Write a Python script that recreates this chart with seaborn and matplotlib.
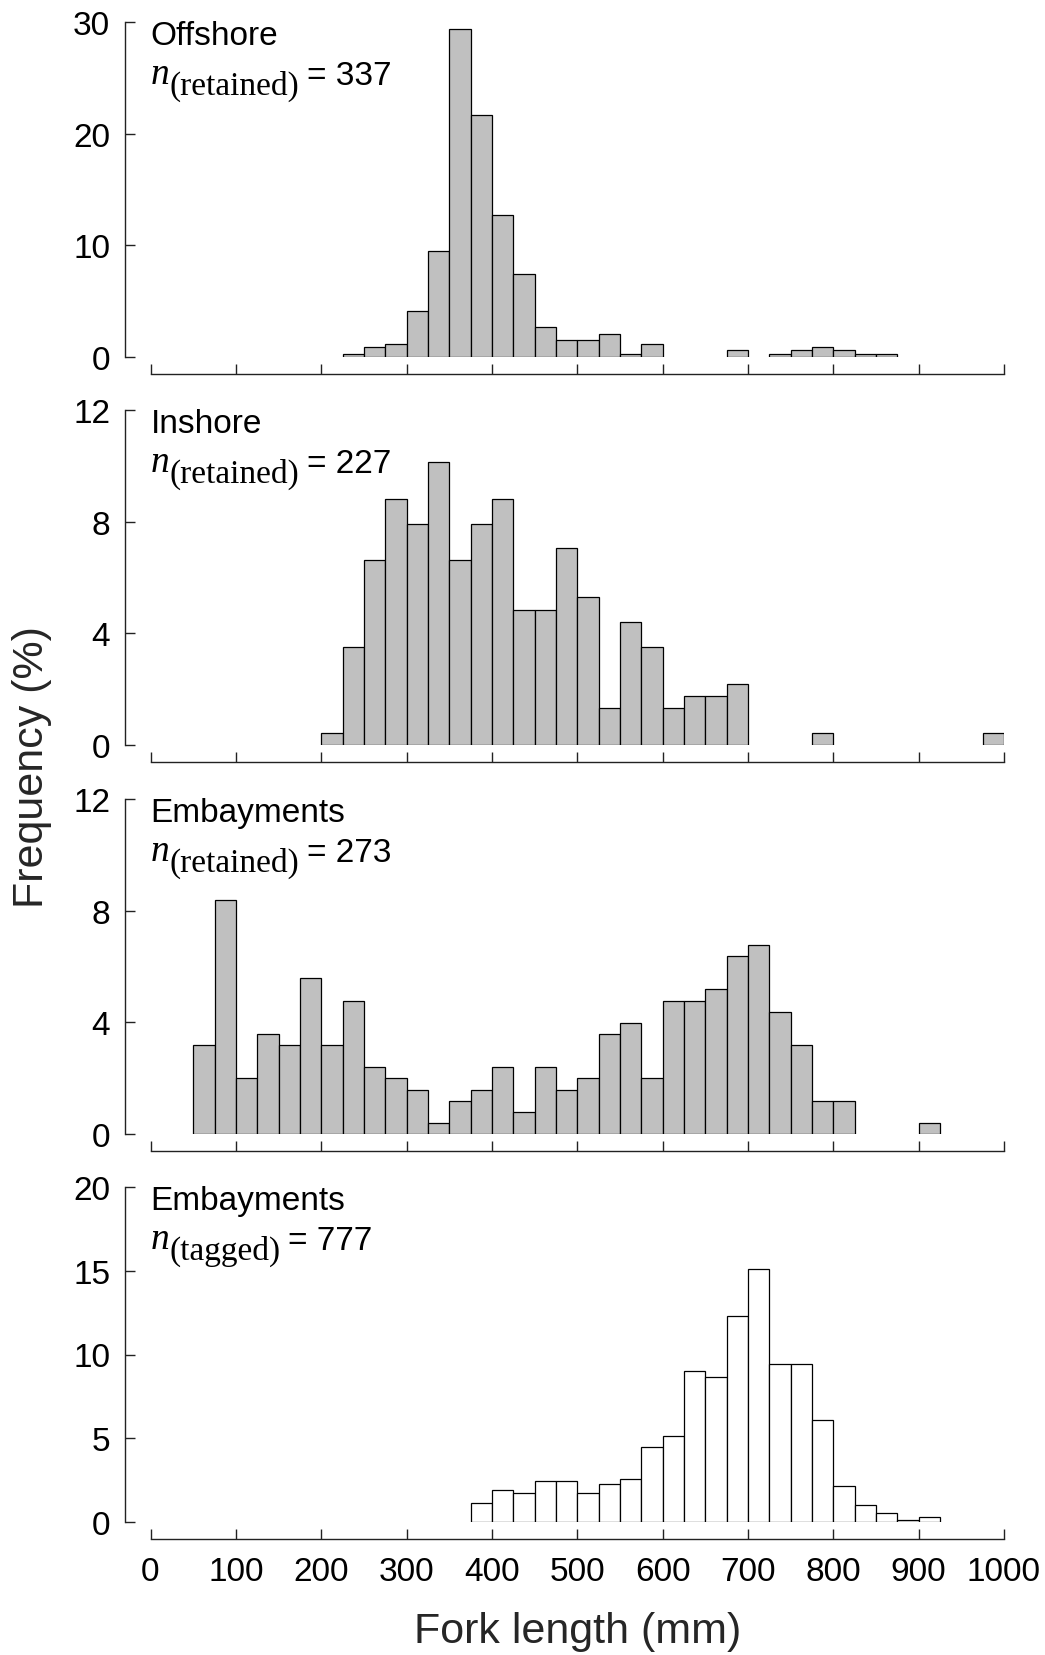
import numpy as np
import pandas as pd
import matplotlib
matplotlib.use("Agg")
import matplotlib.pyplot as plt
import seaborn as sns

# ---------------- data (fork-length bins, 25 mm wide; values = % frequency) ----------------
BIN_WIDTH = 25

offshore_left = [225, 250, 275, 300, 325, 350, 375, 400, 425, 450, 475, 500, 525, 550, 575,
                 675, 725, 750, 775, 800, 825, 850]
offshore_pct = [0.30, 0.89, 1.19, 4.15, 9.50, 29.38, 21.66, 12.76, 7.42, 2.67, 1.48, 1.48, 2.08,
                0.30, 1.19, 0.59, 0.30, 0.59, 0.89, 0.59, 0.30, 0.30]

inshore_left = [200, 225, 250, 275, 300, 325, 350, 375, 400, 425, 450, 475, 500, 525, 550, 575,
                600, 625, 650, 675, 775, 975]
inshore_pct = [0.44, 3.52, 6.61, 8.81, 7.93, 10.13, 6.61, 7.93, 8.81, 4.85, 4.85, 7.05, 5.29, 1.32,
               4.41, 3.52, 1.32, 1.76, 1.76, 2.20, 0.44, 0.44]

embay_left = [50, 75, 100, 125, 150, 175, 200, 225, 250, 275, 300, 325, 350, 375, 400, 425, 450,
              475, 500, 525, 550, 575, 600, 625, 650, 675, 700, 725, 750, 775, 800, 900]
embay_pct = [3.19, 8.37, 1.99, 3.59, 3.19, 5.58, 3.19, 4.78, 2.39, 1.99, 1.59, 0.40, 1.20, 1.59,
             2.39, 0.80, 2.39, 1.59, 1.99, 3.59, 3.98, 1.99, 4.78, 4.78, 5.18, 6.37, 6.77, 4.38,
             3.19, 1.20, 1.20, 0.40]

tagged_left = [375, 400, 425, 450, 475, 500, 525, 550, 575, 600, 625, 650, 675, 700, 725, 750,
               775, 800, 825, 850, 875, 900]
tagged_pct = [1.12, 1.90, 1.76, 2.43, 2.43, 1.76, 2.29, 2.55, 4.47, 5.14, 9.03, 8.64, 12.27, 15.10,
              9.45, 9.45, 6.09, 2.17, 0.99, 0.55, 0.14, 0.28]

panel_names = ["Offshore", "Inshore", "Embayments", "Embayments"]
panel_groups = ["(retained)", "(retained)", "(retained)", "(tagged)"]
panel_n = [337, 227, 273, 777]
panel_lefts = [offshore_left, inshore_left, embay_left, tagged_left]
panel_pcts = [offshore_pct, inshore_pct, embay_pct, tagged_pct]
panel_ymax = [30, 12, 12, 20]
panel_yticks = [[0, 10, 20, 30], [0, 4, 8, 12], [0, 4, 8, 12], [0, 5, 10, 15, 20]]
panel_fill = ["#c0c0c0", "#c0c0c0", "#c0c0c0", "#ffffff"]

x_ticks = [0, 100, 200, 300, 400, 500, 600, 700, 800, 900, 1000]
x_label = "Fork length (mm)"
y_label = "Frequency (%)"

# ---------------- style ----------------
sns.set_theme(style="ticks")
plt.rcParams["font.family"] = ["Liberation Sans", "DejaVu Sans"]
SERIF = ["Liberation Serif", "DejaVu Serif"]
AX_COLOR = "#222222"

W, H = 1045, 1656
fig = plt.figure(figsize=(W / 100, H / 100), dpi=100)

ax_left = 150.5 / W
ax_width = (1004 - 150.5) / W
zero_px = [358, 746, 1135, 1523]
height_px = 335

for i in range(4):
    bottom = 1 - zero_px[i] / H
    ax = fig.add_axes([ax_left, bottom, ax_width, height_px / H])
    df = pd.DataFrame({"fl": panel_lefts[i], "pct": panel_pcts[i]})
    lo = min(panel_lefts[i])
    hi = max(panel_lefts[i]) + BIN_WIDTH
    sns.histplot(data=df, x="fl", weights="pct", binwidth=BIN_WIDTH, binrange=(lo, hi), ax=ax,
                 color=panel_fill[i], alpha=1, edgecolor="black", linewidth=0.9)
    for p in list(ax.patches):
        if p.get_height() == 0:
            p.remove()

    ax.set_xlim(0, 1000)
    ax.set_ylim(0, panel_ymax[i])
    ax.set_xticks(x_ticks)
    ax.set_yticks(panel_yticks[i])
    ax.set_xlabel("")
    ax.set_ylabel("")
    for s in ["top", "right"]:
        ax.spines[s].set_visible(False)
    ax.spines["left"].set_position(("outward", 18.5))
    ax.spines["bottom"].set_position(("outward", 12))
    for s in ["left", "bottom"]:
        ax.spines[s].set_color(AX_COLOR)
        ax.spines[s].set_linewidth(1.0)
    ax.tick_params(axis="both", direction="in", length=7.5, width=1.0, color=AX_COLOR,
                   labelsize=24, labelcolor="black")
    ax.tick_params(axis="y", pad=10.5)
    ax.tick_params(axis="x", pad=12.5)
    if i < 3:
        ax.tick_params(axis="x", labelbottom=False)
    ax.set_facecolor("none")

    # annotations
    ax.text(0, 0.934, panel_names[i], transform=ax.transAxes, fontsize=24,
            ha="left", va="baseline", color="black")
    tn = ax.text(0.0, 0.817, "n", transform=ax.transAxes, fontsize=27, family=SERIF,
                 style="italic", ha="left", va="baseline", color="black")
    ts = ax.annotate(panel_groups[i], xy=(1, 0), xycoords=tn, xytext=(0.5, -7),
                     textcoords="offset points", fontsize=24, family=SERIF,
                     ha="left", va="bottom", color="black")
    ax.annotate(f"= {panel_n[i]}", xy=(1, 0), xycoords=ts, xytext=(5, 7),
                textcoords="offset points", fontsize=24, ha="left", va="bottom", color="black")

fig.text(0.0306, 0.537, y_label, rotation=90, fontsize=31, ha="center", va="center")
fig.text((150.5 + 1004) / 2 / W, 1 - 1632 / H, x_label, fontsize=31, ha="center", va="center")

fig.savefig("out.png", dpi=100)
